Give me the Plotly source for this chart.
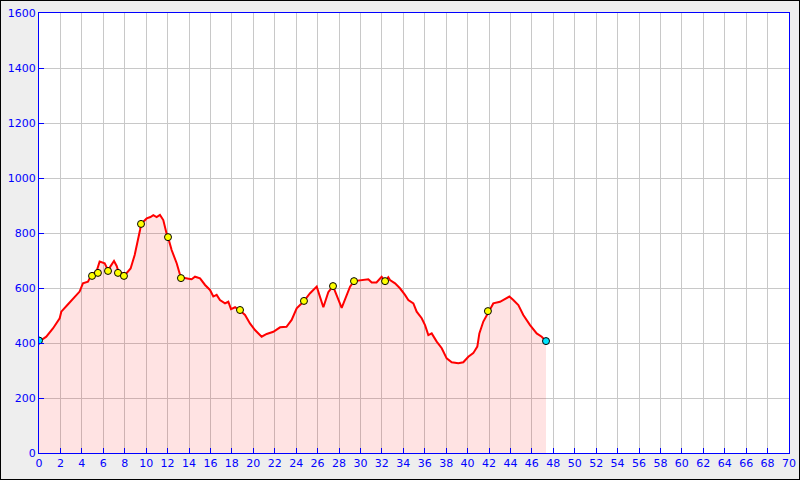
import plotly.graph_objects as go

# Elevation profile (distance in km, elevation in m)
dist = [0, 0.22, 0.68, 1.3, 1.93, 2.08, 2.71, 3.33, 3.79, 4.1, 4.57, 4.88, 5.38, 5.66,
        6.13, 6.44, 7.0, 7.25, 7.37, 7.7, 8.15, 8.55, 8.93, 9.43, 9.52, 10.05, 10.4,
        10.67, 10.98, 11.29, 11.6, 11.9, 12.04, 12.38, 12.85, 13.25, 13.6, 14.09, 14.25,
        14.56, 15.03, 15.5, 15.96, 16.27, 16.58, 16.89, 17.36, 17.67, 17.92, 18.3, 18.76,
        19.23, 19.69, 20.16, 20.78, 21.25, 21.87, 22.5, 23.1, 23.58, 24.05, 24.67, 25.3,
        25.92, 26.54, 27.0, 27.44, 28.25, 29.03, 29.4, 30.27, 30.74, 31.05, 31.5, 31.98,
        32.3, 32.6, 32.76, 33.23, 33.69, 34.16, 34.47, 34.94, 35.25, 35.72, 36.03, 36.34,
        36.65, 37.12, 37.59, 38.05, 38.52, 39.14, 39.6, 40.07, 40.53, 40.91, 41.1, 41.47,
        41.94, 42.4, 43.03, 43.5, 43.9, 44.27, 44.74, 45.2, 45.83, 46.45, 46.92, 47.32]
elev = [409, 411, 423, 453, 490, 514, 541, 569, 587, 617, 623, 647, 662, 696,
        690, 665, 698, 680, 665, 655, 653, 671, 720, 811, 833, 853, 858,
        865, 858, 866, 847, 799, 785, 738, 690, 636, 636, 633, 632,
        641, 635, 611, 593, 569, 575, 556, 544, 550, 523, 530, 518,
        502, 471, 447, 423, 433, 441, 457, 459, 484, 526, 550, 581,
        605, 530, 585, 607, 528, 605, 625, 629, 632, 620, 620, 641,
        625, 639, 629, 617, 599, 575, 556, 544, 514, 490, 465, 429,
        435, 405, 381, 344, 330, 326, 330, 350, 363, 387, 435, 478,
        514, 544, 550, 562, 569, 556, 538, 502, 465, 435, 423, 407]

# Waypoints
wp_dist = [4.95, 5.5, 6.44, 7.37, 7.93, 9.52, 12.04, 13.25, 18.76, 24.73, 27.44, 29.4, 32.3, 41.9]
wp_elev = [644, 655, 662, 655, 644, 833, 785, 636, 520, 553, 607, 625, 625, 516]

# Start / end points
se_dist = [0, 47.32]
se_elev = [409, 407]

x_ticks = list(range(0, 72, 2))
y_ticks = list(range(0, 1800, 200))

fig = go.Figure()
fig.add_trace(go.Scatter(x=dist, y=elev, mode="lines", fill="tozeroy",
                         fillcolor="rgba(255,0,0,0.11)",
                         line=dict(color="#ff0000", width=2), hoverinfo="skip"))
fig.add_trace(go.Scatter(x=wp_dist, y=wp_elev, mode="markers",
                         marker=dict(color="#ffff00", size=7,
                                     line=dict(color="#000000", width=1))))
fig.add_trace(go.Scatter(x=se_dist, y=se_elev, mode="markers",
                         marker=dict(color="#00e5ff", size=7,
                                     line=dict(color="#000000", width=1))))

axis_common = dict(showgrid=True, gridcolor="#c8c8c8", gridwidth=1,
                   showline=True, linecolor="#0000ff", linewidth=1, mirror=True,
                   ticks="inside", ticklen=5, tickcolor="#0000ff",
                   tickfont=dict(family="DejaVu Sans", size=11, color="#0000ff"),
                   zeroline=False, automargin=False)

fig.update_layout(
    width=800, height=480,
    paper_bgcolor="#eeeeee", plot_bgcolor="#ffffff",
    margin=dict(l=39, r=11, t=13, b=27, pad=0),
    showlegend=False,
    xaxis=dict(range=[0, 70], tickvals=x_ticks, ticktext=[str(v) for v in x_ticks], **axis_common),
    yaxis=dict(range=[0, 1600], tickvals=y_ticks, ticktext=[str(v) for v in y_ticks], **axis_common),
    shapes=[dict(type="rect", xref="paper", yref="paper",
                 x0=-39/750, x1=761/750, y0=-27/440, y1=453/440,
                 line=dict(color="#000000", width=2), layer="above")],
)

fig.write_html("out.html", config={"displayModeBar": False},
               post_script="document.body.style.margin='0';document.body.style.padding='0';")
